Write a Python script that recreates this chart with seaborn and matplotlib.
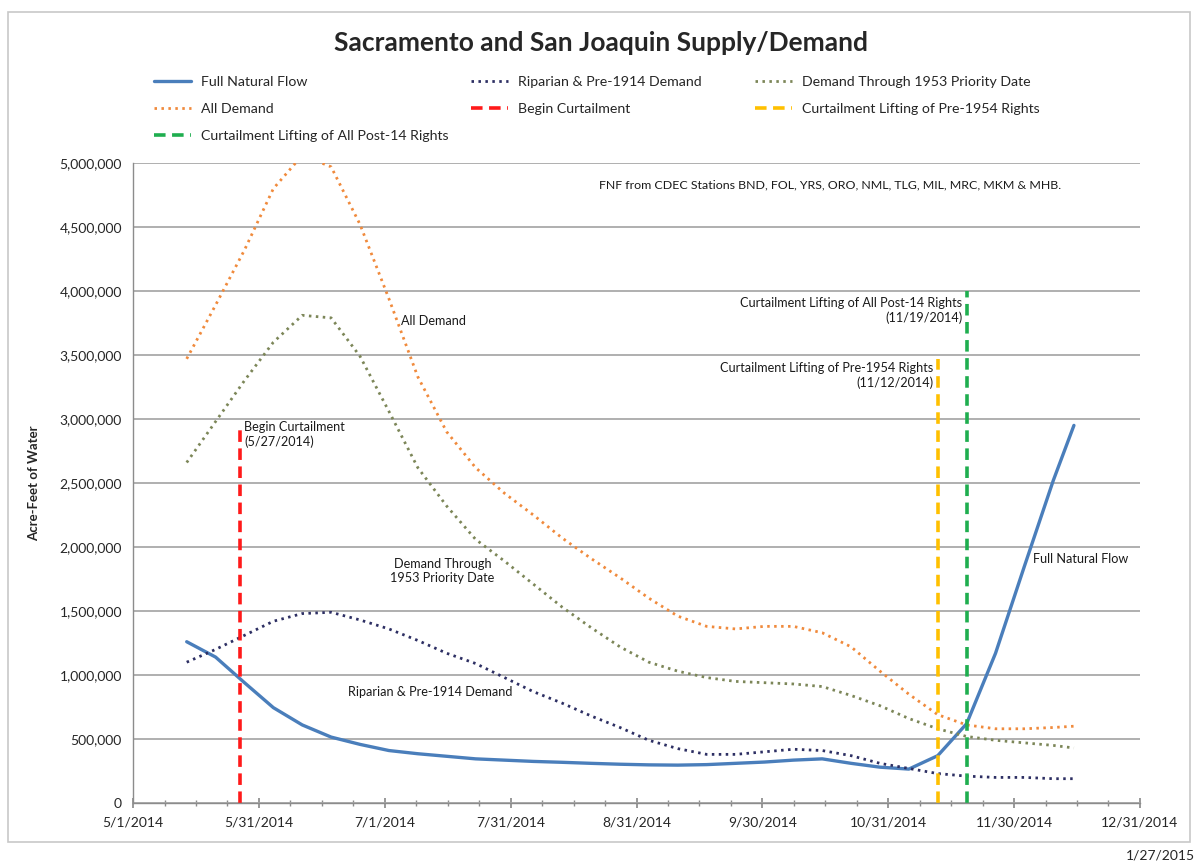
import pandas as pd
import numpy as np
import seaborn as sns
import matplotlib.pyplot as plt
import matplotlib.dates as mdates
from matplotlib.patches import Rectangle

# weekly readings (acre-feet)
dates = ["2014-05-14", "2014-05-21", "2014-05-28", "2014-06-04", "2014-06-11", "2014-06-18",
         "2014-06-25", "2014-07-02", "2014-07-09", "2014-07-16", "2014-07-23", "2014-07-30",
         "2014-08-06", "2014-08-13", "2014-08-20", "2014-08-27", "2014-09-03", "2014-09-10",
         "2014-09-17", "2014-09-24", "2014-10-01", "2014-10-08", "2014-10-15", "2014-10-22",
         "2014-10-29", "2014-11-05", "2014-11-12", "2014-11-19", "2014-11-26", "2014-12-03",
         "2014-12-10", "2014-12-15"]

full_natural_flow = [1260000, 1140000, 940000, 745000, 610000, 515000, 458000, 410000, 385000,
                     365000, 345000, 335000, 325000, 318000, 310000, 303000, 298000, 296000,
                     300000, 310000, 320000, 335000, 345000, 310000, 280000, 265000, 370000,
                     620000, 1170000, 1850000, 2520000, 2950000]
riparian_demand = [1100000, 1200000, 1310000, 1420000, 1480000, 1490000, 1430000, 1360000, 1270000,
                   1170000, 1090000, 980000, 870000, 780000, 680000, 590000, 490000, 425000,
                   380000, 380000, 400000, 420000, 410000, 370000, 310000, 270000, 230000,
                   210000, 200000, 200000, 190000, 190000]
demand_1953 = [2660000, 2980000, 3300000, 3600000, 3810000, 3790000, 3490000, 3060000, 2620000,
               2320000, 2060000, 1890000, 1710000, 1530000, 1370000, 1220000, 1100000, 1030000,
               980000, 950000, 940000, 930000, 910000, 840000, 760000, 660000, 580000,
               520000, 490000, 470000, 450000, 430000]
all_demand = [3470000, 3890000, 4320000, 4800000, 5060000, 4970000, 4520000, 3940000, 3330000,
              2900000, 2620000, 2420000, 2250000, 2070000, 1910000, 1760000, 1600000, 1460000,
              1380000, 1360000, 1380000, 1380000, 1330000, 1220000, 1030000, 850000, 690000,
              610000, 580000, 580000, 590000, 600000]

curtail_names = ["Begin Curtailment", "Curtailment Lifting of Pre-1954 Rights",
                 "Curtailment Lifting of All Post-14 Rights"]
curtail_dates = ["2014-05-27", "2014-11-12", "2014-11-19"]
curtail_tops = [2950000, 3470000, 4000000]

tick_start, tick_end = "2014-05-01", "2014-12-31"

df = pd.DataFrame({
    "date": pd.to_datetime(dates),
    "Full Natural Flow": full_natural_flow,
    "Riparian & Pre-1914 Demand": riparian_demand,
    "Demand Through 1953 Priority Date": demand_1953,
    "All Demand": all_demand,
})

sns.set_theme(style="white")
plt.rcParams['font.family'] = ['Lato', 'DejaVu Sans']

fig = plt.figure(figsize=(12.03, 8.67), dpi=100)
ax = fig.add_axes([0.1106, 0.0738, 0.8370, 0.7382])

# series styles
dots = (0, (0.9, 1.6))
styles = {
    "Full Natural Flow": dict(color="#4a7ebb", lw=2.4, ls="-"),
    "Riparian & Pre-1914 Demand": dict(color="#2d2f63", lw=2.0, ls=dots),
    "Demand Through 1953 Priority Date": dict(color="#7c8658", lw=2.0, ls=dots),
    "All Demand": dict(color="#f08a3c", lw=2.0, ls=dots),
}
handles = {}
for name, st in styles.items():
    sns.lineplot(x=df["date"], y=df[name], ax=ax, color=st["color"], lw=st["lw"],
                 linestyle=st["ls"], legend=False, estimator=None)
    handles[name] = ax.lines[-1]

curtail_colors = ["#ff1a1a", "#ffc000", "#1fae4f"]
for name, d, top, c in zip(curtail_names, curtail_dates, curtail_tops, curtail_colors):
    seg = pd.DataFrame({"date": pd.to_datetime([d, d]), "v": [0, top]})
    sns.lineplot(data=seg, x="date", y="v", ax=ax, color=c, lw=2.6,
                 linestyle=(0, (3.2, 1.8)), legend=False, estimator=None, sort=False)
    handles[name] = ax.lines[-1]

# axes
x0 = mdates.date2num(pd.Timestamp(tick_start))
x1 = mdates.date2num(pd.Timestamp(tick_end))
ax.set_xlim(x0, x1)
ax.set_ylim(0, 5000000)
ax.set_xticks(np.linspace(x0, x1, 9))
ax.set_xticks(np.linspace(x0, x1, 33), minor=True)
ax.xaxis.set_major_formatter(plt.FuncFormatter(
    lambda v, p: (lambda t: f"{t.month}/{t.day}/{t.year}")(mdates.num2date(v))))
ax.set_yticks(np.arange(0, 5000001, 500000))
ax.yaxis.set_major_formatter(plt.FuncFormatter(lambda v, p: f"{v:,.0f}"))
ax.grid(axis="y", color="#a9a9a9", lw=1.3)
ax.grid(axis="x", visible=False)
for s in ["top", "right"]:
    ax.spines[s].set_visible(False)
for s in ["left", "bottom"]:
    ax.spines[s].set_color("#8c8c8c")
    ax.spines[s].set_linewidth(1.0)
ax.tick_params(axis="x", which="major", direction="inout", length=7, color="#8c8c8c",
               labelsize=10, pad=6, bottom=True)
ax.tick_params(axis="x", which="minor", direction="inout", length=4, color="#8c8c8c", bottom=True)
ax.tick_params(axis="y", length=0, labelsize=10, pad=8)
ax.set_xlabel("")
ax.set_ylabel("Acre-Feet of Water", fontsize=9.5, fontweight="bold", labelpad=14)

# annotations
tk = dict(fontsize=9.1, color="#1a1a1a")
ax.text(pd.Timestamp("2014-08-22"), 4830000,
        "FNF from CDEC Stations BND, FOL, YRS, ORO, NML, TLG, MIL, MRC, MKM & MHB.",
        va="center", ha="left", fontsize=8.9, color="#1a1a1a")
ax.text(pd.Timestamp("2014-07-05"), 3765000, "All Demand", va="center", ha="left", **tk)
ax.text(pd.Timestamp("2014-05-28"), 2880000, "Begin Curtailment\n(5/27/2014)",
        va="center", ha="left", linespacing=1.2, **tk)
ax.text(pd.Timestamp("2014-07-15"), 1810000, "Demand Through\n1953 Priority Date",
        va="center", ha="center", multialignment="center", linespacing=1.2, **tk)
ax.text(pd.Timestamp("2014-07-12"), 867000, "Riparian & Pre-1914 Demand",
        va="center", ha="center", **tk)
ax.text(pd.Timestamp("2014-11-18"), 3850000, "Curtailment Lifting of All Post-14 Rights\n(11/19/2014)",
        va="center", ha="right", multialignment="right", linespacing=1.2, **tk)
ax.text(pd.Timestamp("2014-11-11"), 3340000, "Curtailment Lifting of Pre-1954 Rights\n(11/12/2014)",
        va="center", ha="right", multialignment="right", linespacing=1.2, **tk)
ax.text(pd.Timestamp("2014-12-05"), 1906000, "Full Natural Flow", va="center", ha="left", **tk)

# legend: three columns placed separately
legend_cols = [
    (148, ["Full Natural Flow", "All Demand", "Curtailment Lifting of All Post-14 Rights"]),
    (465, ["Riparian & Pre-1914 Demand", "Begin Curtailment"]),
    (749, ["Demand Through 1953 Priority Date", "Curtailment Lifting of Pre-1954 Rights"]),
]
for xpx, names in legend_cols:
    fig.legend([handles[k] for k in names], names, loc="upper left",
               bbox_to_anchor=(xpx / 1203, 1 - 70 / 867), frameon=False,
               fontsize=10.2, handlelength=2.6, handletextpad=0.75,
               labelspacing=1.08, borderaxespad=0)

fig.suptitle("Sacramento and San Joaquin Supply/Demand", x=0.5, y=1 - 31 / 867,
             fontsize=19, fontweight="bold", va="top")
fig.text(0.993, 0.006, "1/27/2015", ha="right", va="bottom", fontsize=10)

# outer chart border
fig.patches.append(Rectangle((8 / 1203, 1 - 842 / 867), 1182 / 1203, 830 / 867,
                             transform=fig.transFigure, fill=False,
                             edgecolor="#c8c8c8", lw=1.2))

fig.savefig("out.png", dpi=100)
